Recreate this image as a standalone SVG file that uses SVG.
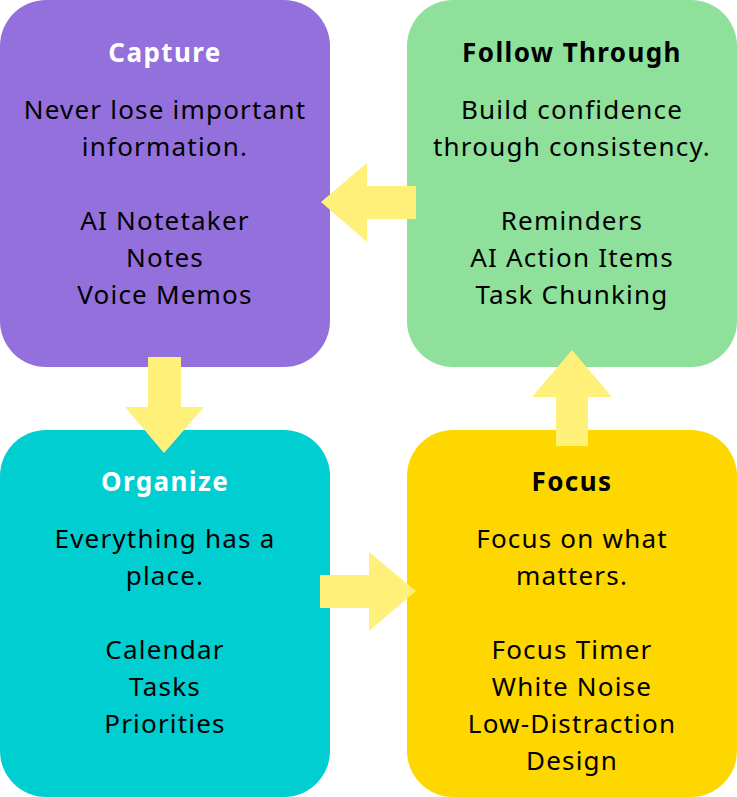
<svg xmlns="http://www.w3.org/2000/svg" width="737" height="797" viewBox="0 0 737 797">
<style>
.box{stroke:none}
.t{font-family:"Noto Sans","Open Sans",sans-serif;text-anchor:middle}
.title{font-size:26px;font-weight:bold;letter-spacing:1.4px}
.body{font-size:26px;fill:#000;letter-spacing:1.2px}
.arrow{fill:#FFF07A}
</style>
<rect width="737" height="797" fill="#fff"/>
<g id="capture">
<rect class="box" x="0" y="0" width="330" height="367" rx="46" fill="#9370DB"/>
<text class="t title" x="165" y="62" fill="#fff">Capture</text>
<text class="t body" x="165" y="119">Never lose important</text>
<text class="t body" x="165" y="156">information.</text>
<text class="t body" x="165" y="230">AI Notetaker</text>
<text class="t body" x="165" y="267">Notes</text>
<text class="t body" x="165" y="304">Voice Memos</text>
</g>
<g id="follow-through">
<rect class="box" x="407" y="0" width="330" height="367" rx="46" fill="#8EE09A"/>
<text class="t title" x="572" y="62" fill="#000">Follow Through</text>
<text class="t body" x="572" y="119">Build confidence</text>
<text class="t body" x="572" y="156">through consistency.</text>
<text class="t body" x="572" y="230">Reminders</text>
<text class="t body" x="572" y="267">AI Action Items</text>
<text class="t body" x="572" y="304">Task Chunking</text>
</g>
<g id="organize">
<rect class="box" x="0" y="430" width="330" height="367" rx="46" fill="#00CED1"/>
<text class="t title" x="165" y="491" fill="#fff">Organize</text>
<text class="t body" x="165" y="548">Everything has a</text>
<text class="t body" x="165" y="585">place.</text>
<text class="t body" x="165" y="659">Calendar</text>
<text class="t body" x="165" y="696">Tasks</text>
<text class="t body" x="165" y="733">Priorities</text>
</g>
<g id="focus">
<rect class="box" x="407" y="430" width="330" height="367" rx="46" fill="#FFD700"/>
<text class="t title" x="572" y="491" fill="#000">Focus</text>
<text class="t body" x="572" y="548">Focus on what</text>
<text class="t body" x="572" y="585">matters.</text>
<text class="t body" x="572" y="659">Focus Timer</text>
<text class="t body" x="572" y="696">White Noise</text>
<text class="t body" x="572" y="733">Low-Distraction</text>
<text class="t body" x="572" y="770">Design</text>
</g>
<g id="connectors">
<polygon class="arrow" points="416,186 367,186 367,163 321,202 367,242 367,219 416,219"/>
<polygon class="arrow" points="148,357 181,357 181,407 204,407 164,453 125,407 148,407"/>
<polygon class="arrow" points="320,575 369,575 369,552 416,591 369,631 369,608 320,608"/>
<polygon class="arrow" points="556,446 556,397 532,397 572,350 612,397 588,397 588,446"/>
</g>
</svg>
